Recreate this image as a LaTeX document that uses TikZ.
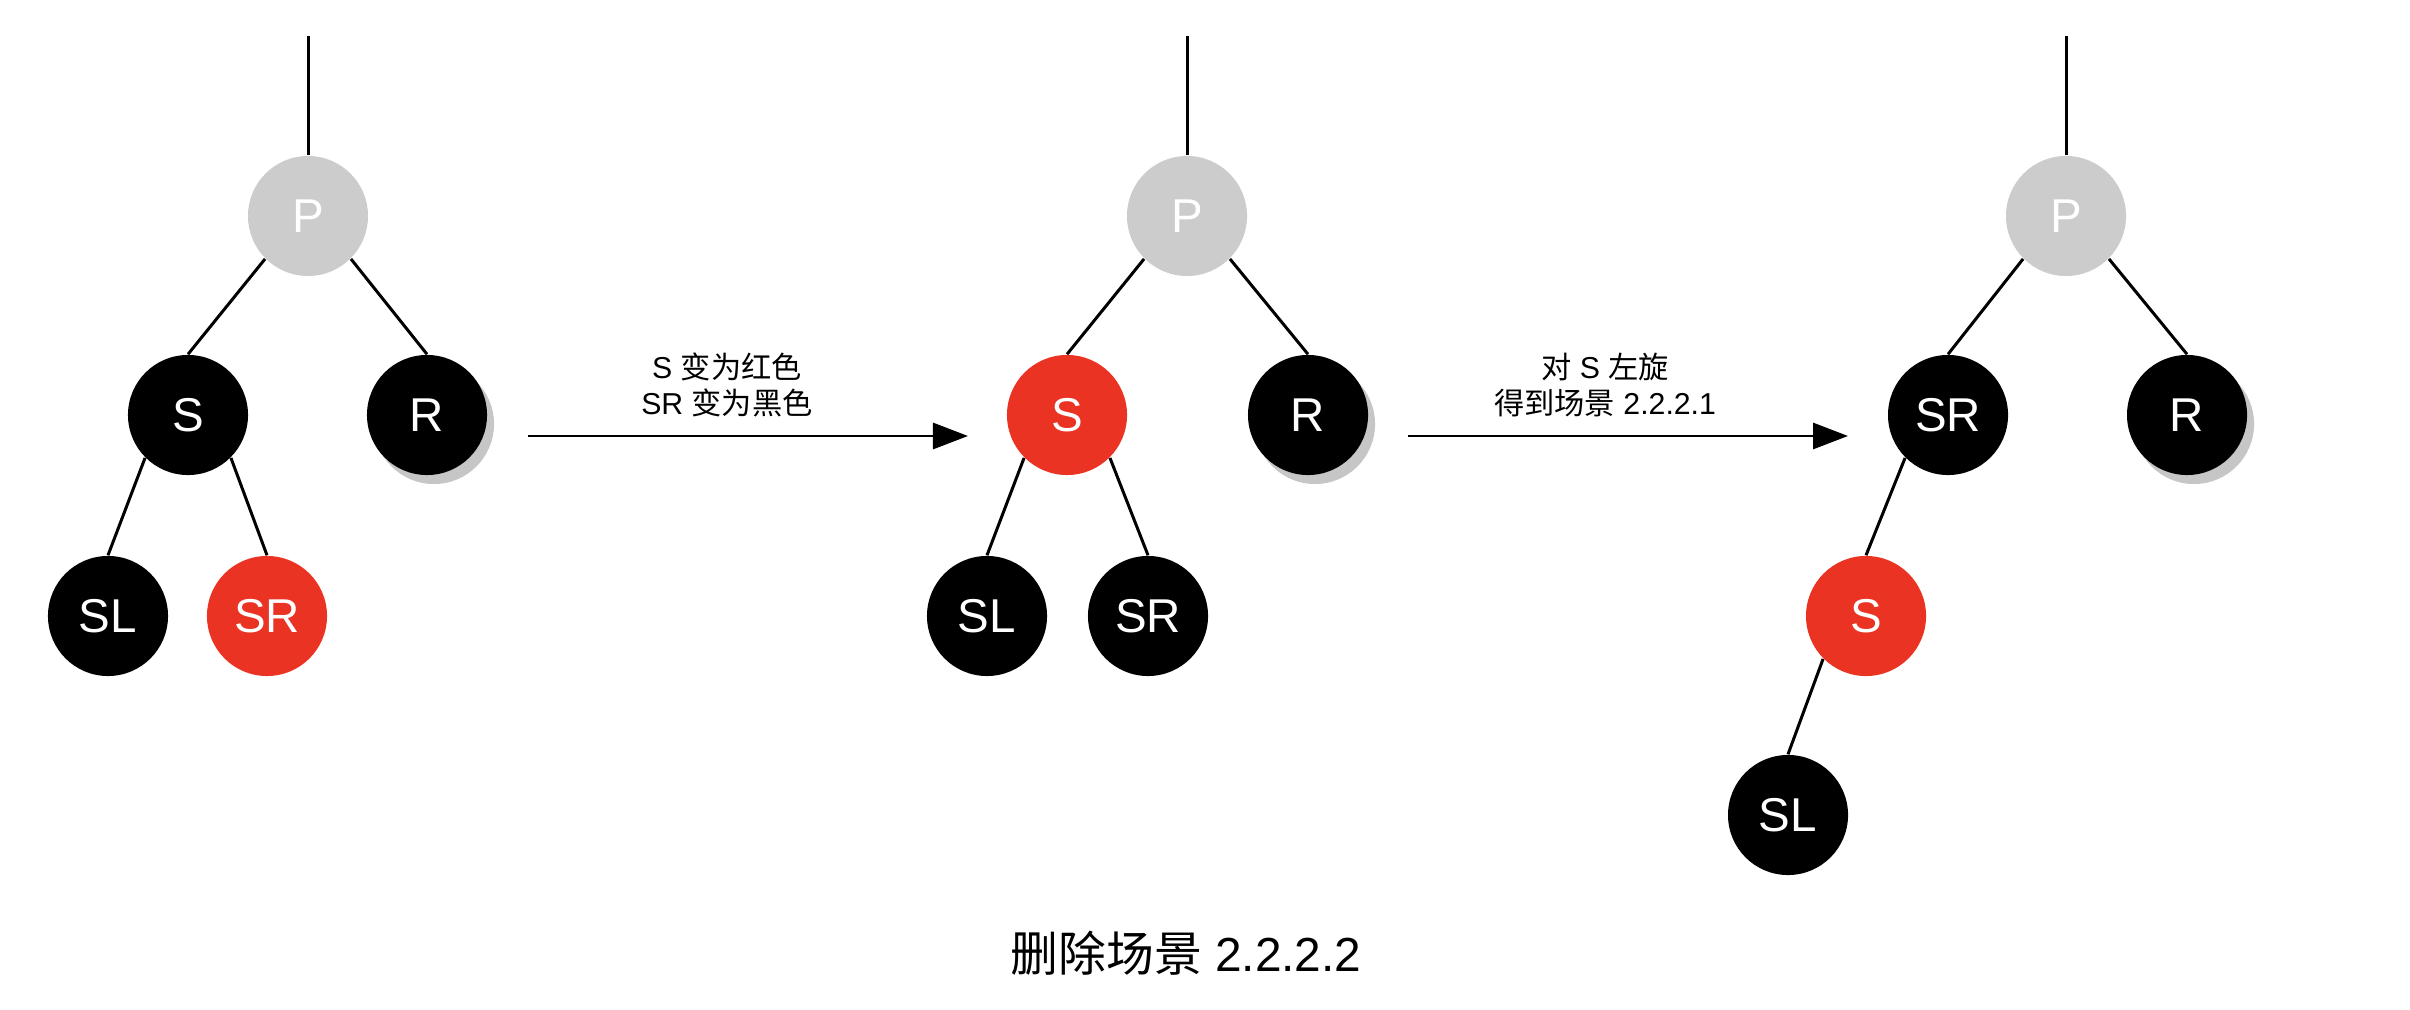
\documentclass[tikz,border=0pt]{standalone}
\usepackage{fontspec}
\setmainfont{Liberation Sans}
\newfontfamily\cjk{Noto Sans CJK SC}
\usetikzlibrary{arrows.meta, shadows}
\definecolor{rbred}{HTML}{EA3323}
\definecolor{pgray}{HTML}{CCCCCC}
\definecolor{shgray}{HTML}{C6C6C6}

\begin{document}
\begin{tikzpicture}[
  x=0.01cm, y=-0.01cm,
  >={Triangle[length=3.5mm, width=2.6mm]},
  rbnode/.style={circle, minimum size=1.2cm, inner sep=0pt, text=white,
    font=\fontsize{13.5}{16}\selectfont},
  blacknode/.style={rbnode, fill=black},
  rednode/.style={rbnode, fill=rbred},
  parnode/.style={rbnode, fill=pgray},
  rshadow/.style={general shadow={fill=shgray, shadow xshift=0.07cm,
    shadow yshift=-0.09cm}},
  treeline/.style={line width=0.85pt},
  steplabel/.style={align=center, font=\fontsize{8.6}{10}\selectfont},
]

\useasboundingbox (0,0) rectangle (2410,1010);

% =============================================
% Tree 1: before
% =============================================
\coordinate (t1) at (308,36);
\node[parnode] (p1) at (308,216) {P};
\node[blacknode] (s1) at (188,415) {S};
\node[blacknode, rshadow] (r1) at (427,415) {R};
\node[blacknode] (sl1) at (108,616) {SL};
\node[rednode] (sr1) at (267,616) {SR};

\draw[treeline] (t1) -- (p1);
\draw[treeline] (p1.south west) -- (s1.north);
\draw[treeline] (p1.south east) -- (r1.north);
\draw[treeline] (s1.south west) -- (sl1.north);
\draw[treeline] (s1.south east) -- (sr1.north);

% =============================================
% Tree 2: after recolouring
% =============================================
\coordinate (t2) at (1187,36);
\node[parnode] (p2) at (1187,216) {P};
\node[rednode] (s2) at (1067,415) {S};
\node[blacknode, rshadow] (r2) at (1308,415) {R};
\node[blacknode] (sl2) at (987,616) {SL};
\node[blacknode] (sr2) at (1148,616) {SR};

\draw[treeline] (t2) -- (p2);
\draw[treeline] (p2.south west) -- (s2.north);
\draw[treeline] (p2.south east) -- (r2.north);
\draw[treeline] (s2.south west) -- (sl2.north);
\draw[treeline] (s2.south east) -- (sr2.north);

% =============================================
% Tree 3: after left rotation
% =============================================
\coordinate (t3) at (2066,36);
\node[parnode] (p3) at (2066,216) {P};
\node[blacknode] (sr3) at (1948,415) {SR};
\node[blacknode, rshadow] (r3) at (2187,415) {R};
\node[rednode] (s3) at (1866,616) {S};
\node[blacknode] (sl3) at (1788,815) {SL};

\draw[treeline] (t3) -- (p3);
\draw[treeline] (p3.south west) -- (sr3.north);
\draw[treeline] (p3.south east) -- (r3.north);
\draw[treeline] (sr3.south west) -- (s3.north);
\draw[treeline] (s3.south west) -- (sl3.north);

% =============================================
% Steps
% =============================================
\coordinate (a1s) at (528,436);
\coordinate (a1e) at (968,436);
\draw[treeline, ->] (a1s) -- (a1e);
\node[steplabel] (lab1) at (727,385)
  {S {\cjk 变为红色}\\SR {\cjk 变为黑色}};

\coordinate (a2s) at (1408,436);
\coordinate (a2e) at (1848,436);
\draw[treeline, ->] (a2s) -- (a2e);
\node[steplabel] (lab2) at (1605,385)
  {{\cjk 对} S {\cjk 左旋}\\{\cjk 得到场景} 2.2.2.1};

% Caption
\node[font=\fontsize{13.6}{16}\selectfont] (title) at (1186,953)
  {{\cjk 删除场景} 2.2.2.2};

\end{tikzpicture}
\end{document}
